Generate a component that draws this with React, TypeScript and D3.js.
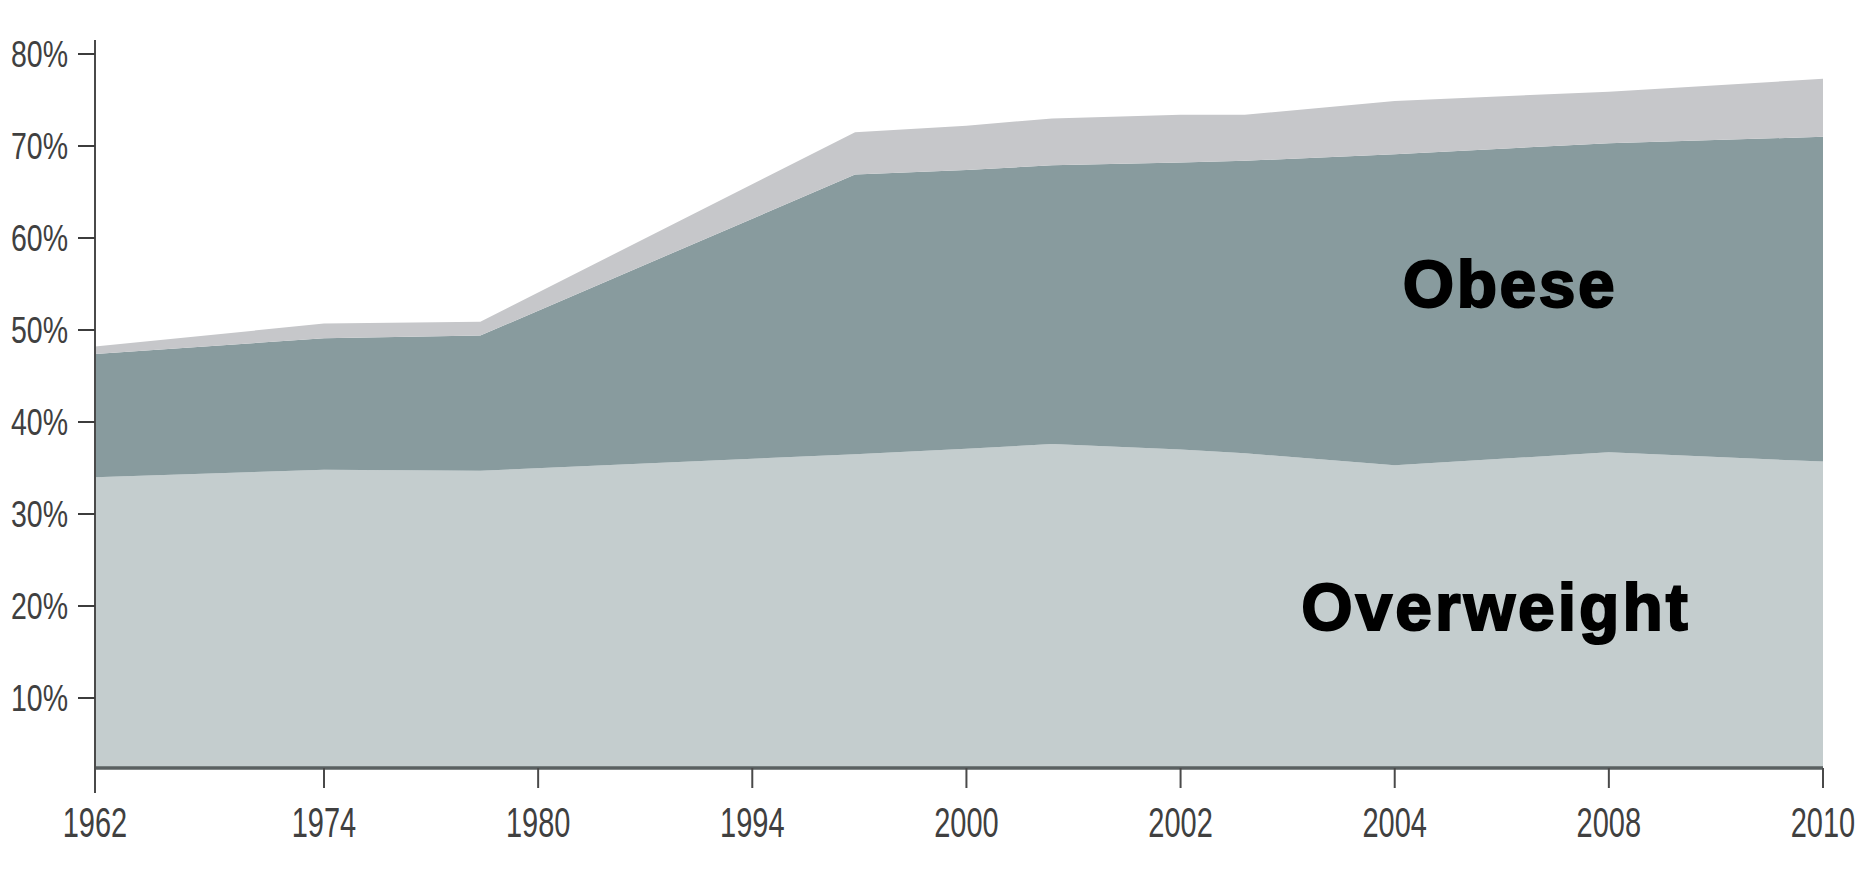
import React from "react";
import * as d3 from "d3";

// Survey years shown along the horizontal axis
const yearLabels = ["1962", "1974", "1980", "1994", "2000", "2002", "2004", "2008", "2010"];

// Position of each sample along the year axis (0 = first label, 8 = last label)
const samplePos = [0, 1, 1.73, 3.48, 4, 4.4, 5, 5.3, 6, 7, 8];

// Share of adults (%) in each band at each sample
const overweight = [34.0, 34.8, 34.7, 36.5, 37.1, 37.6, 37.0, 36.6, 35.3, 36.7, 35.7];
const obese = [13.4, 14.3, 14.7, 30.4, 30.3, 30.3, 31.2, 31.8, 33.8, 33.6, 35.3];
const extremelyObese = [0.8, 1.6, 1.5, 4.6, 4.8, 5.1, 5.2, 5.0, 5.8, 5.6, 6.3];

const percentTicks = [10, 20, 30, 40, 50, 60, 70, 80];

const W = 1860;
const H = 880;
const left = 95;
const right = 1823;
const floorY = 768;

// the first year gap is drawn a little wider than the rest
const x = d3.scaleLinear().domain([0, 1, 8]).range([left, 324, right]);
const y = d3.scaleLinear().domain([0, 80]).range([790, 54]);

const rows = samplePos.map((p, i) => ({
  p,
  overweight: overweight[i],
  obese: obese[i],
  extreme: extremelyObese[i],
}));

const keys = ["overweight", "obese", "extreme"];
const colors: Record<string, string> = {
  overweight: "#c4cdce",
  obese: "#889b9e",
  extreme: "#c6c7ca",
};

const layers = d3.stack<any>().keys(keys)(rows);

const area = d3
  .area<any>()
  .x((d) => x(d.data.p))
  .y0((d) => y(d[0]))
  .y1((d) => y(d[1]))
  .curve(d3.curveLinear);

const labelFont = "'Liberation Sans Narrow', 'Arial Narrow', 'Liberation Sans', sans-serif";
const heavyFont = "'Liberation Sans', Arial, Helvetica, sans-serif";

export default function App() {
  return (
    <svg
      width={W}
      height={H}
      style={{ position: "absolute", left: 0, top: 0, background: "#fff" }}
    >
      <defs>
        <clipPath id="plot-clip">
          <rect x={left} y={0} width={right - left} height={floorY} />
        </clipPath>
      </defs>

      <g clipPath="url(#plot-clip)">
        {layers.map((layer) => (
          <path key={layer.key} d={area(layer) || ""} fill={colors[layer.key]} />
        ))}
      </g>

      {/* horizontal axis */}
      <line x1={left} x2={right} y1={floorY} y2={floorY} stroke="#5a6061" strokeWidth={3.5} />
      {yearLabels.map((lab, i) => (
        <g key={lab}>
          <line x1={x(i)} x2={x(i)} y1={floorY} y2={788} stroke="#4a4a4a" strokeWidth={2} />
          <text
            transform={`translate(${x(i)}, 837) scale(1, 1.45)`}
            textAnchor="middle"
            fontFamily={labelFont}
            fontSize={29}
            fill="#404040"
          >
            {lab}
          </text>
        </g>
      ))}

      {/* vertical axis */}
      <line x1={left} x2={left} y1={40} y2={793} stroke="#4a4a4a" strokeWidth={2} />
      {percentTicks.map((t) => (
        <g key={t}>
          <line x1={78} x2={left} y1={y(t)} y2={y(t)} stroke="#3c3c3c" strokeWidth={2} />
          <text
            transform={`translate(68, ${y(t) + 13}) scale(1, 1.27)`}
            textAnchor="end"
            fontFamily={labelFont}
            fontSize={28.5}
            fill="#404040"
          >
            {t}%
          </text>
        </g>
      ))}

      {/* band labels */}
      <text
        x={1510}
        y={307}
        textAnchor="middle"
        fontFamily={heavyFont}
        fontWeight={900}
        fontSize={66}
        letterSpacing={2.5}
        fill="#000"
        stroke="#000"
        strokeWidth={2}
      >
        Obese
      </text>
      <text
        x={1496}
        y={630}
        textAnchor="middle"
        fontFamily={heavyFont}
        fontWeight={900}
        fontSize={66}
        letterSpacing={3}
        fill="#000"
        stroke="#000"
        strokeWidth={2}
      >
        Overweight
      </text>
    </svg>
  );
}
